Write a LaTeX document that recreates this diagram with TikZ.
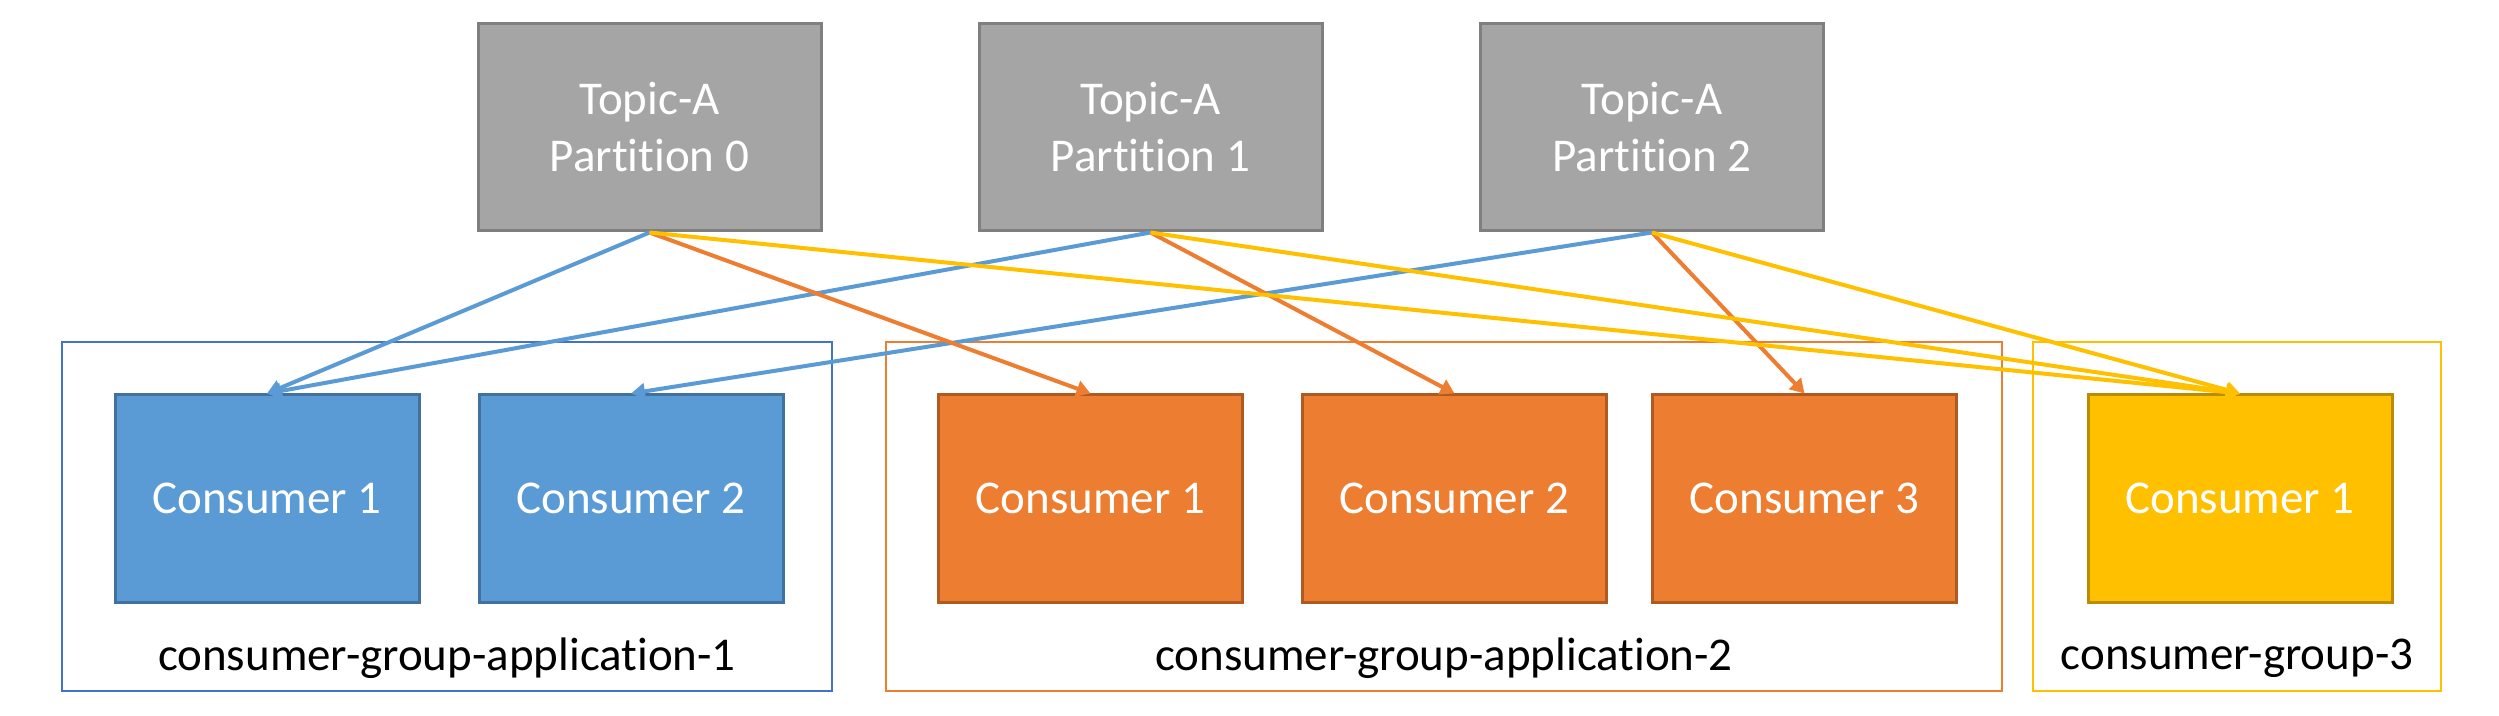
\documentclass[tikz,border=0pt]{standalone}
\usepackage{fontspec}
\setmainfont{Carlito}[Ligatures={NoCommon}, Contextuals={NoAlternate}]
\usetikzlibrary{arrows.meta, positioning}
\usepackage{xcolor}
\definecolor{topicgray}{HTML}{A5A5A5}
\definecolor{topicedge}{HTML}{7F7F7F}
\definecolor{appblue}{HTML}{5B9BD5}
\definecolor{appblueedge}{HTML}{41719C}
\definecolor{grpblue}{HTML}{4472C4}
\definecolor{apporange}{HTML}{ED7D31}
\definecolor{apporangeedge}{HTML}{AE5A21}
\definecolor{appyellow}{HTML}{FFC000}
\definecolor{appyellowedge}{HTML}{BC8C00}
\tikzset{x=1pt, y=1pt,
         box/.style={draw, line width=3pt, inner sep=0pt, text=white,
                     font=\fontsize{47}{57}\selectfont, align=center},
         topic/.style={box, fill=topicgray, draw=topicedge,
                       minimum width=343pt, minimum height=207pt},
         consumer/.style={box, minimum width=304pt, minimum height=207pt},
         group/.style={draw, line width=2.5pt, inner sep=0pt, minimum height=349pt},
         grouplabel/.style={font=\fontsize{47}{57}\selectfont, inner sep=0pt},
         feed/.style={line width=4pt, -{Triangle[length=14pt,width=16pt]}}}

\begin{document}
\begin{tikzpicture}
\useasboundingbox (0,0) rectangle (2499,715);
% partitions
\foreach \i/\x in {0/649.5, 1/1150.5, 2/1652}
    \node[topic] (p\i) at (\x,587.5) {Topic-A\\Partition \i};
% groups
\node[group, draw=grpblue, minimum width=770pt] (g1) at (447,198.5) {};
\node[group, draw=apporange, minimum width=1116pt] (g2) at (1444,198.5) {};
\node[group, draw=appyellow, minimum width=408pt] (g3) at (2237,198.5) {};
\node[grouplabel] (l1) at ([yshift=34pt]g1.south) {consumer-group-application-1};
\node[grouplabel] (l2) at ([yshift=34pt]g2.south) {consumer-group-application-2};
\node[grouplabel] (l3) at ([yshift=34pt]g3.south) {consumer-group-3};
% consumers
\node[consumer, fill=appblue, draw=appblueedge] (bc1) at (267,216.5) {Consumer 1};
\node[consumer, fill=appblue, draw=appblueedge, right=57pt of bc1] (bc2) {Consumer 2};
\node[consumer, fill=apporange, draw=apporangeedge] (oc1) at (1090.5,216.5) {Consumer 1};
\node[consumer, fill=apporange, draw=apporangeedge, right=57pt of oc1] (oc2) {Consumer 2};
\node[consumer, fill=apporange, draw=apporangeedge, right=43pt of oc2] (oc3) {Consumer 3};
\node[consumer, fill=appyellow, draw=appyellowedge] (yc1) at (2240,216.5) {Consumer 1};
% feeds
\draw[feed, appblue] (p0.south) -- (bc1.north);
\draw[feed, appblue] (p1.south) -- (bc1.north);
\draw[feed, appblue] (p2.south) -- (bc2.north);
\draw[feed, apporange] (p0.south) -- (oc1.north);
\draw[feed, apporange] (p1.south) -- (oc2.north);
\draw[feed, apporange] (p2.south) -- (oc3.north);
\foreach \i in {0,1,2}
    \draw[feed, appyellow] (p\i.south) -- (yc1.north);
\end{tikzpicture}
\end{document}
